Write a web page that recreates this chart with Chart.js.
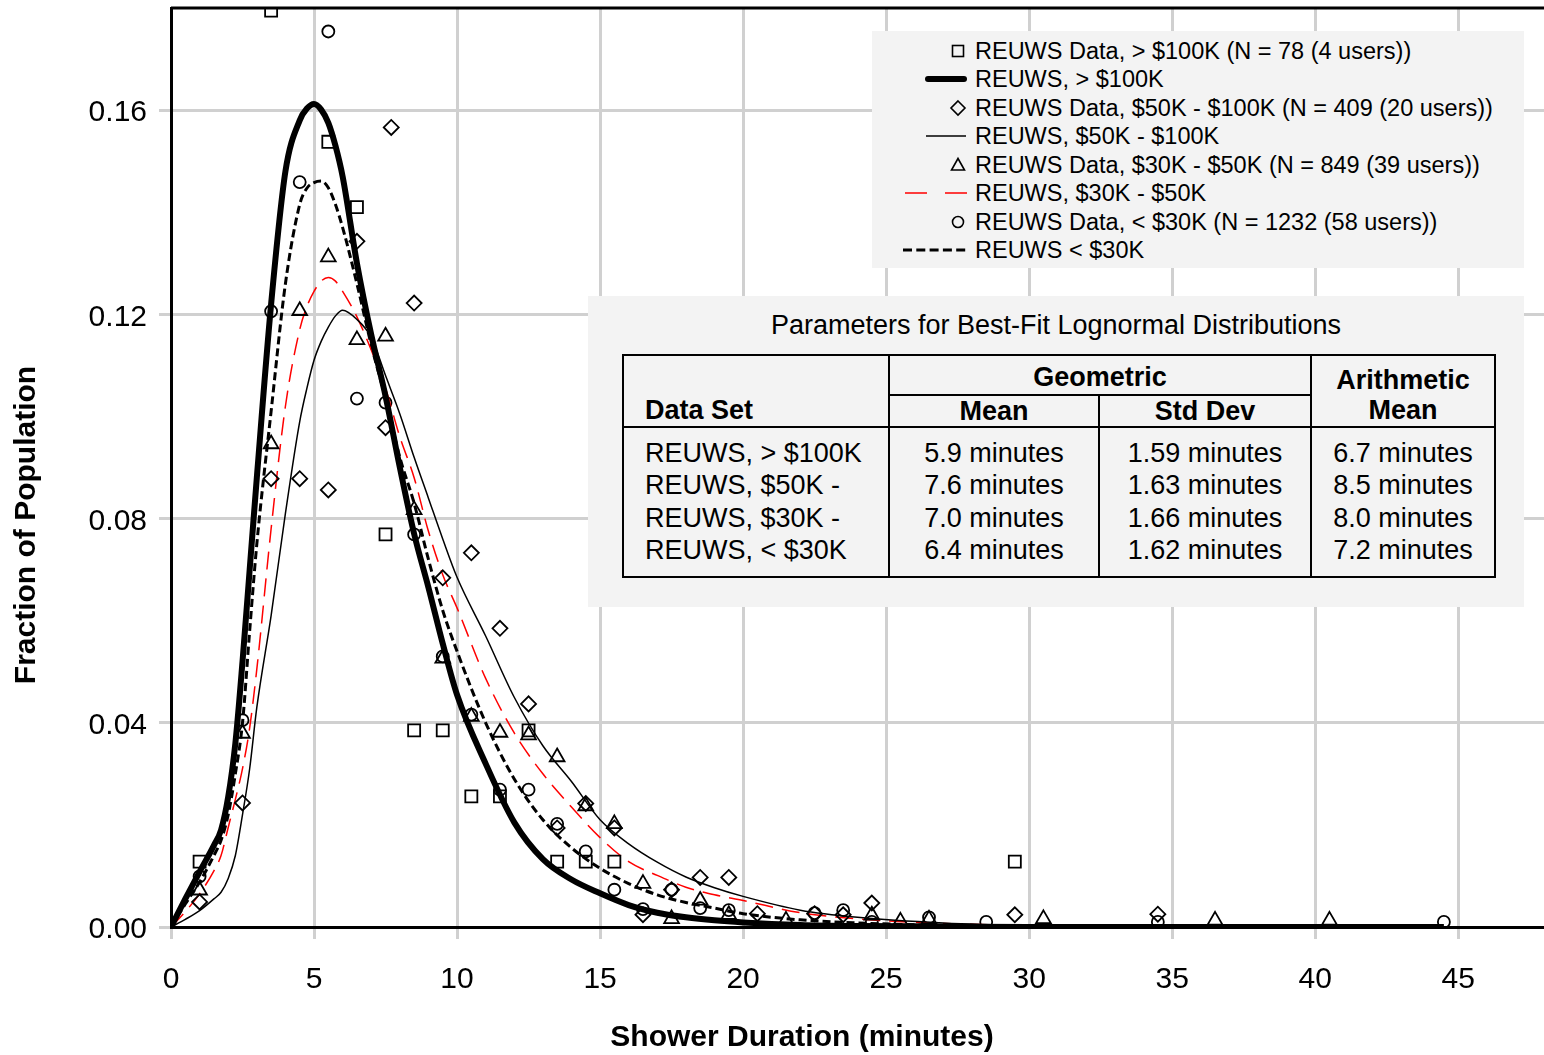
<!DOCTYPE html>
<html>
<head>
<meta charset="utf-8">
<script src="https://cdn.jsdelivr.net/npm/chart.js@4.4.1/dist/chart.umd.min.js"></script>
<style>
  html, body { margin: 0; padding: 0; background: #fff; overflow: hidden; }
  #wrap { position: relative; width: 1544px; height: 1055px; font-family: "Liberation Sans", Arial, sans-serif; color: #000; }
  .axisTitle { position: absolute; font-size: 30px; font-weight: bold; line-height: 36px; text-align: center; white-space: nowrap; }
  #xTitle { left: 502px; top: 1018px; width: 600px; }
  #yTitle { left: -275px; top: 507px; width: 600px; transform: rotate(-90deg); }
  #legend { position: absolute; left: 872px; top: 31px; width: 652px; height: 237px; background: #f3f3f3; }
  .row { position: absolute; left: 0; width: 100%; height: 28px; }
  .row svg { position: absolute; left: 25px; top: 0; }
  .row span { position: absolute; left: 103px; top: 0; line-height: 28px; font-size: 23.5px; white-space: nowrap; }
  #params { position: absolute; left: 588px; top: 296px; width: 936px; height: 311px; background: #f3f3f3; }
  #params .title { position: absolute; left: 0; top: 13px; width: 100%; text-align: center; font-size: 27px; line-height: 32px; }
  #params table { position: absolute; left: 34px; top: 58px; border-collapse: collapse; table-layout: fixed; font-size: 27px; border: 2px solid #000; }
  #params th, #params td { padding: 0; border-left: 2px solid #000; border-right: 2px solid #000; white-space: nowrap; overflow: hidden; }
  #params th { font-weight: bold; line-height: 30px; }
  #params thead tr:first-child th { height: 34px; }
  #params thead tr:last-child th { height: 30px; }
  #params thead th { border-bottom: 2px solid #000; }
  #params th.set { text-align: left; padding-left: 21px; vertical-align: bottom; padding-bottom: 1px; }
  #params th.geo { padding-top: 4px; }
  #params th.arith { vertical-align: bottom; padding-bottom: 1px; }
  #params td { line-height: 32.4px; text-align: center; }
  #params td.set { text-align: left; padding-left: 21px; }
  #params tbody tr:first-child td { padding-top: 9px; }
  #params tbody tr:last-child td { padding-bottom: 9px; }
</style>
</head>
<body>
<div id="wrap">
  <canvas id="chart" width="1544" height="1055"></canvas>
  <div class="axisTitle" id="xTitle">Shower Duration (minutes)</div>
  <div class="axisTitle" id="yTitle">Fraction of Population</div>
  <div id="legend"></div>
  <div id="params">
    <div class="title">Parameters for Best-Fit Lognormal Distributions</div>
    <table>
      <colgroup><col style="width:266px"><col style="width:210px"><col style="width:212px"><col style="width:184px"></colgroup>
      <thead>
        <tr><th class="set" rowspan="2">Data Set</th><th class="geo" colspan="2">Geometric</th><th class="arith" rowspan="2">Arithmetic<br>Mean</th></tr>
        <tr><th>Mean</th><th>Std Dev</th></tr>
      </thead>
      <tbody id="paramRows"></tbody>
    </table>
  </div>
</div>
<script>
// measured data (bin centres, minutes)
const squareX = [1, 3.5, 5.5, 6.5, 7.5, 8.5, 9.5, 10.5, 11.5, 12.5, 13.5, 14.5, 15.5, 29.5];
const squareY = [0.0128, 0.1795, 0.1538, 0.1410, 0.0769, 0.0385, 0.0385, 0.0256, 0.0256, 0.0385, 0.0128, 0.0128, 0.0128, 0.0128];

const diamondX = [1, 2.5, 3.5, 4.5, 5.5, 6.5, 7.5, 7.7, 8.5, 9.5, 10.5, 11.5, 12.5, 13.5, 14.5, 15.5, 16.5, 17.5, 18.5, 19.5, 20.5, 22.5, 23.5, 24.5, 29.5, 34.5];
const diamondY = [0.0049, 0.0243, 0.0878, 0.0878, 0.0856, 0.1343, 0.0978, 0.1566, 0.1222, 0.0684, 0.0733, 0.0585, 0.0437, 0.0194, 0.0242, 0.0194, 0.0024, 0.0073, 0.0097, 0.0097, 0.0026, 0.0026, 0.0024, 0.0047, 0.0024, 0.0025];

const triangleX = [1, 2.5, 3.5, 4.5, 5.5, 6.5, 7.5, 8.5, 9.5, 10.5, 11.5, 12.5, 13.5, 14.5, 15.5, 16.5, 17.5, 18.5, 19.5, 21.5, 24.5, 25.5, 26.5, 30.5, 36.5, 40.5];
const triangleY = [0.0072, 0.0379, 0.0946, 0.1207, 0.1312, 0.1150, 0.1157, 0.0817, 0.0526, 0.0412, 0.0381, 0.0376, 0.0333, 0.0237, 0.0202, 0.0085, 0.0016, 0.0052, 0.0024, 0.0013, 0.0023, 0.0011, 0.0015, 0.0016, 0.0013, 0.0013];

const circleX = [1, 2.5, 3.5, 4.5, 5.5, 6.5, 7.5, 8.5, 9.5, 10.5, 11.5, 12.5, 13.5, 14.5, 15.5, 16.5, 17.5, 18.5, 19.5, 22.5, 23.5, 24.5, 26.5, 28.5, 34.5, 44.5];
const circleY = [0.0099, 0.0405, 0.1206, 0.1459, 0.1754, 0.1035, 0.1027, 0.0769, 0.0530, 0.0416, 0.0269, 0.0269, 0.0202, 0.0148, 0.0073, 0.0035, 0.0073, 0.0037, 0.0033, 0.0027, 0.0033, 0.0010, 0.0019, 0.0010, 0.0010, 0.0010];

// best-fit curves
const curveX = [0, 0.5, 1, 1.5, 1.75, 2, 2.25, 2.5, 2.75, 3, 3.5, 4, 4.5, 4.75, 5, 5.25, 5.5, 5.75, 6, 6.5, 7, 7.5, 8, 8.5, 9, 9.5, 10, 11, 12, 13, 14, 15, 16, 17, 18, 19, 20, 22, 24, 27, 30, 35, 40, 44.5];
const fitOver100k = [0, 0.0055, 0.0108, 0.0160, 0.0190, 0.0255, 0.036, 0.052, 0.070, 0.088, 0.122, 0.148, 0.158, 0.1603, 0.1612, 0.1601, 0.1575, 0.153, 0.147, 0.130, 0.116, 0.104, 0.090, 0.077, 0.0665, 0.0555, 0.0455, 0.032, 0.0205, 0.0133, 0.0093, 0.0066, 0.0043, 0.0028, 0.0019, 0.0013, 0.0009, 0.0004, 0.0002, 0.0001, 0, 0, 0, 0];
const fit50to100k = [0, 0.0015, 0.0032, 0.0055, 0.0068, 0.0095, 0.014, 0.022, 0.031, 0.043, 0.061, 0.081, 0.099, 0.1055, 0.111, 0.1147, 0.1175, 0.1197, 0.1208, 0.119, 0.1155, 0.108, 0.1005, 0.092, 0.084, 0.076, 0.0685, 0.057, 0.045, 0.0355, 0.0285, 0.021, 0.0163, 0.0127, 0.0098, 0.0077, 0.006, 0.0033, 0.0019, 0.0008, 0.0003, 0.0001, 0, 0];
const fit30to50k = [0, 0.003, 0.0065, 0.011, 0.014, 0.0195, 0.025, 0.031, 0.039, 0.0505, 0.078, 0.102, 0.117, 0.1215, 0.1245, 0.1265, 0.1272, 0.1265, 0.1245, 0.1195, 0.113, 0.1055, 0.096, 0.088, 0.0775, 0.069, 0.0625, 0.0487, 0.038, 0.030, 0.0235, 0.0175, 0.0128, 0.0101, 0.0078, 0.0063, 0.0052, 0.0028, 0.0016, 0.0007, 0.0003, 0.0001, 0, 0];
const fitUnder30k = [0, 0.0045, 0.0088, 0.014, 0.017, 0.022, 0.030, 0.040, 0.058, 0.075, 0.101, 0.126, 0.1415, 0.1447, 0.1458, 0.1461, 0.1448, 0.1415, 0.137, 0.126, 0.114, 0.1035, 0.092, 0.083, 0.072, 0.062, 0.054, 0.040, 0.029, 0.021, 0.0155, 0.0115, 0.0085, 0.0063, 0.0048, 0.0037, 0.0026, 0.0014, 0.0008, 0.0003, 0.0001, 0, 0, 0];

const xTicks = [0, 5, 10, 15, 20, 25, 30, 35, 40, 45];
const yTicks = [0, 0.04, 0.08, 0.12, 0.16];

// parameter table
const tableSets = ["REUWS, > $100K", "REUWS, $50K -", "REUWS, $30K -", "REUWS, < $30K"];
const tableGeoMean = ["5.9 minutes", "7.6 minutes", "7.0 minutes", "6.4 minutes"];
const tableGeoStd = ["1.59 minutes", "1.63 minutes", "1.66 minutes", "1.62 minutes"];
const tableArithMean = ["6.7 minutes", "8.5 minutes", "8.0 minutes", "7.2 minutes"];

const toPoints = (xs, ys) => xs.map((x, i) => ({ x: x, y: ys[i] }));

function markers(label, xs, ys, style, radius) {
  return {
    label: label,
    data: toPoints(xs, ys),
    showLine: false,
    pointStyle: style,
    pointRadius: radius,
    pointBorderColor: "#000",
    pointBackgroundColor: "rgba(0,0,0,0)",
    pointBorderWidth: 1.8,
  };
}

function fitLine(label, ys, color, width, dash) {
  return {
    label: label,
    data: toPoints(curveX, ys),
    showLine: true,
    pointRadius: 0,
    borderColor: color,
    borderWidth: width,
    borderDash: dash,
    cubicInterpolationMode: "monotone",
    fill: false,
  };
}

const datasets = [
  markers("REUWS Data, > $100K (N = 78 (4 users))", squareX, squareY, "rect", 8.5),
  fitLine("REUWS, > $100K", fitOver100k, "#000", 6, []),
  markers("REUWS Data, $50K - $100K (N = 409 (20 users))", diamondX, diamondY, "rectRot", 7.5),
  fitLine("REUWS, $50K - $100K", fit50to100k, "#000", 1.5, []),
  markers("REUWS Data, $30K - $50K (N = 849 (39 users))", triangleX, triangleY, "triangle", 8.5),
  fitLine("REUWS, $30K - $50K", fit30to50k, "#ff0000", 1.5, [18, 9]),
  markers("REUWS Data, < $30K (N = 1232 (58 users))", circleX, circleY, "circle", 6),
  fitLine("REUWS < $30K", fitUnder30k, "#000", 3, [8, 4]),
];

const topFrame = {
  id: "topFrame",
  beforeDatasetsDraw(chart) {
    const { ctx, chartArea } = chart;
    ctx.save();
    ctx.strokeStyle = "#000";
    ctx.lineWidth = 3;
    ctx.beginPath();
    ctx.moveTo(chartArea.left, chartArea.top);
    ctx.lineTo(chartArea.right, chartArea.top);
    ctx.stroke();
    ctx.restore();
  },
};

const family = '"Liberation Sans", Arial, sans-serif';
const gridStyle = { color: "#d0d0d0", lineWidth: 3, tickLength: 12, tickColor: "#d0d0d0" };

// fixed axis boxes so the plot area sits where the original has it
function fixX(s) {
  s.height = 128;
  s.paddingLeft = 0;
  s.paddingRight = 0;
}
function fixY(s) {
  s.width = 171;
  s.paddingTop = 0;
  s.paddingBottom = 0;
}

const chart = new Chart(document.getElementById("chart").getContext("2d"), {
  type: "scatter",
  data: { datasets: datasets },
  options: {
    responsive: false,
    animation: false,
    devicePixelRatio: 1,
    layout: { autoPadding: false, padding: { top: 8, right: 0, bottom: 0, left: 0 } },
    plugins: { legend: { display: false }, tooltip: { enabled: false } },
    scales: {
      x: {
        type: "linear",
        min: 0,
        max: 48,
        afterBuildTicks: (s) => { s.ticks = xTicks.map((v) => ({ value: v })); },
        afterFit: fixX,
        ticks: { font: { family: family, size: 30 }, color: "#000", padding: 23, maxRotation: 0, callback: (v) => String(v) },
        grid: gridStyle,
        border: { color: "#000", width: 3 },
      },
      y: {
        type: "linear",
        min: 0,
        max: 0.18,
        afterBuildTicks: (s) => { s.ticks = yTicks.map((v) => ({ value: v })); },
        afterFit: fixY,
        ticks: { font: { family: family, size: 30 }, color: "#000", padding: 12, labelOffset: 3, callback: (v) => v.toFixed(2) },
        grid: gridStyle,
        border: { color: "#000", width: 3 },
      },
    },
  },
  plugins: [topFrame],
});

// legend built from the datasets
function legendIcon(ds) {
  const s = 'stroke="#000" stroke-width="1.6" fill="none"';
  if (!ds.showLine) {
    if (ds.pointStyle === "rect") return `<rect x="55.5" y="8.5" width="11" height="11" ${s}/>`;
    if (ds.pointStyle === "rectRot") return `<polygon points="61,7 68,14 61,21 54,14" ${s}/>`;
    if (ds.pointStyle === "triangle") return `<polygon points="61,7.5 67.5,19 54.5,19" ${s}/>`;
    return `<circle cx="61" cy="14" r="5.5" ${s}/>`;
  }
  const dash = ds.borderDash.length ? ds.borderDash : null;
  let x1 = 29, x2 = 69, cap = "butt", dashAttr = "";
  if (ds.borderWidth >= 6) { x1 = 31; x2 = 67; cap = "round"; }
  if (dash && ds.borderWidth < 2) { x1 = 8; x2 = 70; dashAttr = 'stroke-dasharray="22 18"'; }
  else if (dash) { x1 = 6; x2 = 70; dashAttr = 'stroke-dasharray="9 4.3"'; }
  return `<line x1="${x1}" y1="14" x2="${x2}" y2="14" stroke="${ds.borderColor}" stroke-width="${ds.borderWidth}" stroke-linecap="${cap}" ${dashAttr}/>`;
}

const legendBox = document.getElementById("legend");
chart.data.datasets.forEach((ds, i) => {
  const row = document.createElement("div");
  row.className = "row";
  row.style.top = (6 + i * 28.43) + "px";
  row.innerHTML = `<svg width="70" height="28">${legendIcon(ds)}</svg><span></span>`;
  row.querySelector("span").textContent = ds.label;
  legendBox.appendChild(row);
});

const body = document.getElementById("paramRows");
tableSets.forEach((name, i) => {
  const tr = document.createElement("tr");
  [name, tableGeoMean[i], tableGeoStd[i], tableArithMean[i]].forEach((txt, j) => {
    const td = document.createElement("td");
    if (j === 0) td.className = "set";
    td.textContent = txt;
    tr.appendChild(td);
  });
  body.appendChild(tr);
});
</script>
</body>
</html>
